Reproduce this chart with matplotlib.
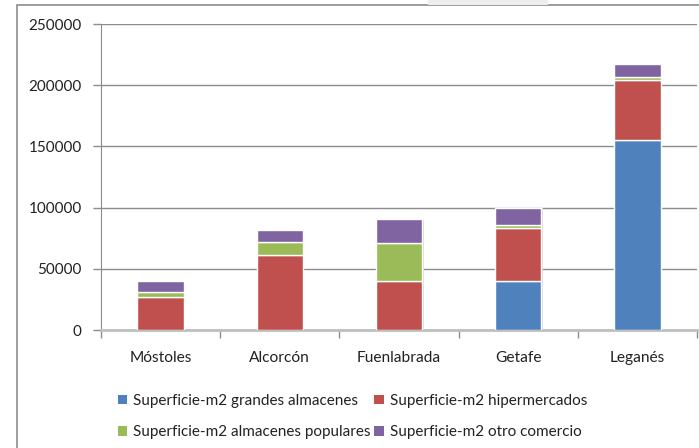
import matplotlib
matplotlib.use("Agg")
import matplotlib.pyplot as plt
from matplotlib.patches import Rectangle
import numpy as np

categories = ["Móstoles", "Alcorcón", "Fuenlabrada", "Getafe", "Leganés"]
series_names = ["Superficie-m2 grandes almacenes", "Superficie-m2 hipermercados",
                "Superficie-m2 almacenes populares", "Superficie-m2 otro comercio"]
grandes = [0, 0, 0, 40000, 155000]
hiper = [26700, 61500, 40000, 43000, 49500]
populares = [4600, 10500, 31000, 2500, 2500]
otro = [8700, 9500, 19500, 14500, 10500]
yticks = [0, 50000, 100000, 150000, 200000, 250000]

colors = ["#4F81BD", "#C0504D", "#9BBB59", "#8064A2"]

plt.rcParams['font.family'] = ['Lato', 'DejaVu Sans']

fig = plt.figure(figsize=(6.99, 4.48), dpi=100)
W, H = 699, 448
ax = fig.add_axes([101 / W, 1 - 330 / H, (697 - 101) / W, (330 - 24) / H])

# figure border
fig.patches.append(Rectangle((17 / W, -0.1), 1.2, (448 - 5.5) / H + 0.1, transform=fig.transFigure,
                             fill=False, edgecolor="#8c8c8c", linewidth=1.2, zorder=0))
fig.patches.append(Rectangle((428 / W, 1 - 5 / H), 120 / W, 5 / H, transform=fig.transFigure,
                             facecolor="#eeeeee", edgecolor="none", zorder=0))

x = np.arange(len(categories))
data = [grandes, hiper, populares, otro]
bottom = np.zeros(len(categories))
width = 0.39
for vals, c, name in zip(data, colors, series_names):
    v = np.array(vals, dtype=float)
    # subtle shadow
    ax.bar(x + 0.012, v, width, bottom=bottom - 500, color="#d9d9d9", edgecolor="none", zorder=2)
    ax.bar(x, v, width, bottom=bottom, color=c, edgecolor="white", linewidth=1.0, label=name, zorder=3)
    bottom += v

ax.set_xlim(-0.5, len(categories) - 0.5)
ax.set_ylim(0, 250000)
ax.set_yticks(yticks)
ax.set_yticklabels([str(t) for t in yticks])
ax.yaxis.grid(True, color="#8c8c8c", linewidth=1.0)
ax.set_axisbelow(True)

ax.set_xticks(x)
ax.set_xticklabels(categories)
ax.set_xticks(np.arange(-0.5, len(categories), 1.0), minor=True)
ax.tick_params(axis="x", which="major", length=0, pad=15, labelsize=11.2, colors="#222222")
ax.tick_params(axis="x", which="minor", length=6, color="#8c8c8c", width=1.0)
ax.tick_params(axis="y", length=6, color="#8c8c8c", width=1.0, labelsize=11, pad=8, labelcolor="#222222")

for s in ["top", "right"]:
    ax.spines[s].set_visible(False)
ax.spines["left"].set_color("#8c8c8c")
ax.spines["bottom"].set_color("#bfbfbf")
ax.spines["bottom"].set_linewidth(2.0)

handles, labels = ax.get_legend_handles_labels()
order = [0, 2, 1, 3]
leg = fig.legend([handles[i] for i in order], [labels[i] for i in order],
                 loc="upper left", ncol=2,
                 bbox_to_anchor=(104 / W, 1 - 380 / H), frameon=False,
                 handlelength=0.6, handleheight=0.6, handletextpad=0.4,
                 columnspacing=0.25, labelspacing=1.15, fontsize=11)
for t in leg.get_texts():
    t.set_color("#222222")
for h in leg.legend_handles:
    h.set_edgecolor("none")

fig.savefig("out.png", dpi=100)
